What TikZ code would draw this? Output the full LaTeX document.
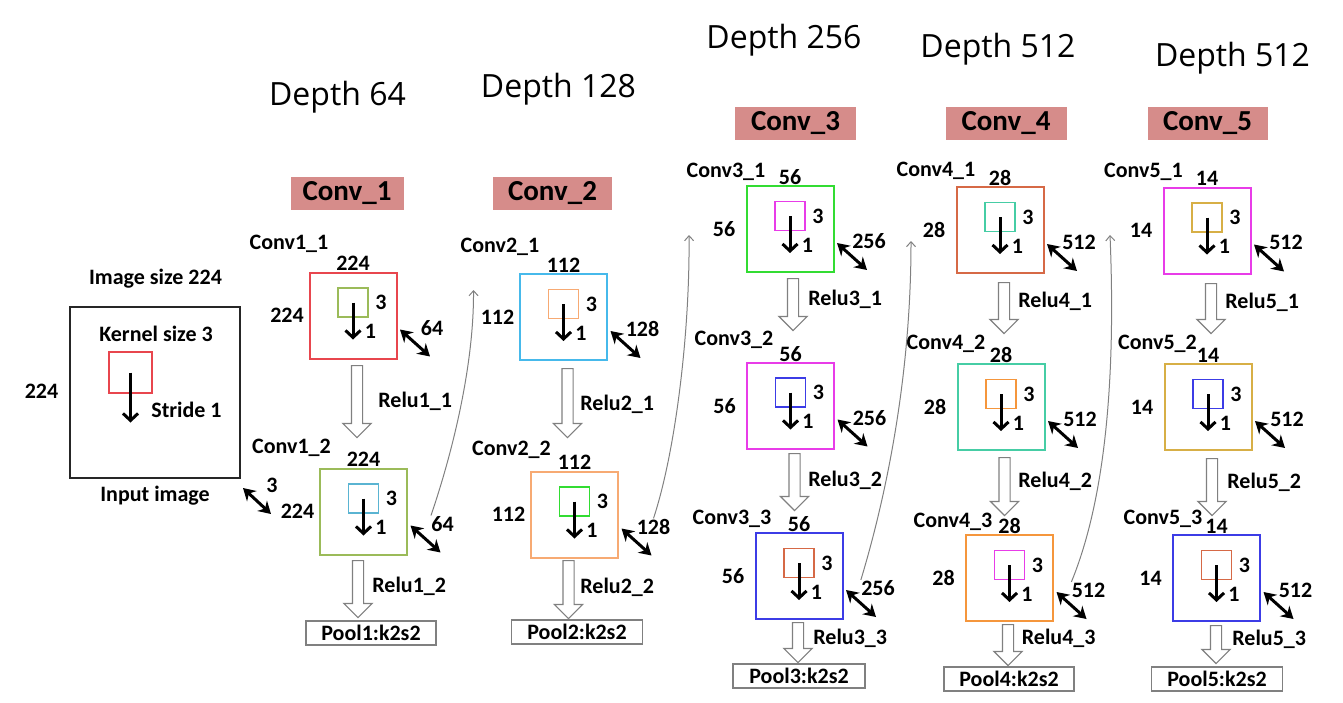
\documentclass[tikz,border=0pt]{standalone}
\usepackage{fontspec}
\setmainfont{Carlito}
\newfontfamily\depthfont{Open Sans}
\usepackage{tikz}
\usetikzlibrary{positioning, arrows.meta, shapes.arrows, calc}

\definecolor{headpink}{RGB}{214,140,138}
\definecolor{fred}{RGB}{232,70,78}
\definecolor{folive}{RGB}{155,187,89}
\definecolor{fsky}{RGB}{70,185,235}
\definecolor{fpeach}{RGB}{247,170,115}
\definecolor{fgreen}{RGB}{50,220,50}
\definecolor{fmagenta}{RGB}{232,60,232}
\definecolor{fblue}{RGB}{60,60,230}
\definecolor{frust}{RGB}{214,105,70}
\definecolor{fteal}{RGB}{70,205,165}
\definecolor{forange}{RGB}{245,150,60}
\definecolor{fgold}{RGB}{215,175,70}
\definecolor{fcyan}{RGB}{90,180,210}
\definecolor{linegray}{RGB}{128,128,128}

\begin{document}
\begin{tikzpicture}[x=0.5pt, y=-0.5pt,
  lbl/.style={font=\fontsize{11}{13}\selectfont\bfseries, inner sep=0pt},
  depthlbl/.style={font=\depthfont\fontsize{16}{19}\selectfont, inner sep=0pt},
  header/.style={fill=headpink, font=\fontsize{14.5}{17}\selectfont\bfseries,
                 minimum height=16.5pt, inner sep=0pt},
  fmap/.style={draw, line width=1pt, minimum width=43.5pt, minimum height=43pt, inner sep=0pt},
  kernel/.style={draw, line width=0.85pt, minimum width=15pt, minimum height=14.5pt, inner sep=0pt},
  stride/.style={line width=1.5pt, -{Straight Barb[length=3.5pt, width=7.5pt]}},
  chan/.style={line width=1.5pt, {Stealth[length=6pt, width=7pt]}-{Stealth[length=6pt, width=7pt]}},
  relu/.style={single arrow, draw=linegray, fill=white, line width=0.6pt,
               shape border rotate=270, inner sep=2.5pt,
               single arrow head extend=4.25pt},
  pool/.style={draw=linegray, line width=0.6pt, minimum height=12pt, inner sep=0pt,
               font=\fontsize{11}{13}\selectfont\bfseries},
  skip/.style={linegray, line width=0.5pt, -{Straight Barb[length=2.5pt, width=4.5pt]}},
]
  \useasboundingbox (0,0) rectangle (1343,702);

  % Depth titles and block headers
  \node[depthlbl] (dep1) at (337.5,97) {Depth 64};
  \node[depthlbl] (dep2) at (558.5,89) {Depth 128};
  \node[depthlbl] (dep3) at (784,40) {Depth 256};
  \node[depthlbl] (dep4) at (998,49) {Depth 512};
  \node[depthlbl] (dep5) at (1232.5,58) {Depth 512};

  \node[header, minimum width=56.5pt] (conv1) at (347,193) {Conv\_1};
  \node[header, minimum width=59.5pt] (conv2) at (552.5,193) {Conv\_2};
  \node[header, minimum width=60.5pt] (conv3) at (795.5,123.5) {Conv\_3};
  \node[header, minimum width=60.5pt] (conv4) at (1006,123.5) {Conv\_4};
  \node[header, minimum width=60pt] (conv5) at (1207.5,123.5) {Conv\_5};

  % Input image
  \node[draw=black!85, line width=1pt, minimum width=85pt, minimum height=85.5pt,
        inner sep=0pt] (img) at (155,392.5) {};
  \node[lbl] (imgsize) at (155.5,279) {Image size 224};
  \node[lbl] (ksize) at (156,334) {Kernel size 3};
  \node[kernel, draw=fred, minimum width=21.5pt, minimum height=20.5pt] (k0) at (130.5,372.5) {};
  \draw[stride] (k0.center) -- ++(0,50);
  \node[lbl] (stride) at (186.5,410) {Stride 1};
  \node[lbl] (imgh) at (41.5,391) {224};
  \node[lbl] (imgname) at (155,496) {Input image};
  \draw[chan] ($(img.south east)+(2,9)$) -- ++(28,26);
  \node[lbl] (imgd) at (272,485) {3};

  % Feature maps: column/row/x/y/frame/kernel/size/depth/label position
  \foreach \col/\row/\px/\py/\fc/\kc/\sz/\dp/\lx/\ly in {
    1/1/353/315.5/fred/folive/224/64/289/242,
    1/2/363.5/511.5/folive/fcyan/224/64/291.5/446,
    2/1/563.5/317/fsky/fpeach/112/128/500/245,
    2/2/574.5/514.5/fpeach/fgreen/112/128/511.5/448,
    3/1/790/229/fgreen/fmagenta/56/256/726/170,
    3/2/790.5/405.5/fmagenta/fblue/56/256/734/338,
    3/3/799/576/fblue/frust/56/256/732/517,
    4/1/1000/230/frust/fteal/28/512/936/169,
    4/2/1001/407/fteal/forange/28/512/946/342,
    4/3/1009.5/578/forange/fmagenta/28/512/953/520,
    5/1/1207/230.5/fmagenta/fgold/14/512/1143.5/170,
    5/2/1208/407/fgold/fblue/14/512/1157.5/342,
    5/3/1216.5/578/fblue/frust/14/512/1163/517}
  {
    \node[fmap, draw=\fc] (c\col\row) at (\px,\py) {};
    \node[kernel, draw=\kc] (k\col\row) at (\px,\py-13) {};
    \draw[stride] (k\col\row.center) -- ++(0,37);
    \node[lbl] (h\col\row) at (\px,\py-52) {\sz};
    \node[lbl] (w\col\row) at (\px-66,\py) {\sz};
    \node[lbl] at (\px+28,\py-13) {3};
    \node[lbl] at (\px+17.5,\py+16) {1};
    \draw[chan] ($(c\col\row.east)+(2.5,14)$) -- ++(30,27);
    \node[lbl] (d\col\row) at (\px+79,\py+12) {\dp};
    \node[lbl] (n\col\row) at (\lx,\ly) {Conv\col\_\row};
  }

  % ReLU block arrows: column/row/x/top/tip/label position
  \foreach \col/\row/\px/\ta/\tb/\lx/\ly in {
    1/1/357/365/437/378/401, 1/2/358/560/617/372/586,
    2/1/567.5/368/437/580/404, 2/2/568.5/560/618/580/587,
    3/1/793/278/330/808/299, 3/2/794.5/453/510/808/480, 3/3/798/622/662/813/638,
    4/1/1004/282/333/1018/301, 4/2/1004.5/457/515/1018/481, 4/3/1008/624/665/1021.5/638,
    5/1/1211/283/333/1225/302, 5/2/1212/458/515/1227/482, 5/3/1216/625/663/1232/639}
  {
    \node[relu, anchor=tail, minimum height={(\tb-\ta)*0.5pt}] (r\col\row) at (\px,\ta) {};
    \node[lbl, anchor=west] at (\lx,\ly) {Relu\col\_\row};
  }

  % Pooling
  \node[pool, minimum width=65pt] (p1) at (371,633) {Pool1:k2s2};
  \node[pool, minimum width=65.5pt] (p2) at (577,632) {Pool2:k2s2};
  \node[pool, minimum width=66pt] (p3) at (799,676) {Pool3:k2s2};
  \node[pool, minimum width=65pt] (p4) at (1009,679) {Pool4:k2s2};
  \node[pool, minimum width=65.5pt] (p5) at (1217,679) {Pool5:k2s2};

  % Links to the next block
  \coordinate (in2) at (473.5,290);
  \coordinate (in3) at (689,235);
  \coordinate (in4) at (911,241);
  \coordinate (in5) at (1110,235);
  \draw[skip] (d12.north west) .. controls (450,460) and (474,370) .. (in2);
  \draw[skip] (d22.north) .. controls (676,450) and (690,330) .. (in3);
  \draw[skip] (d33.north west) .. controls (885,500) and (911,380) .. (in4);
  \draw[skip] (d43.north west) .. controls (1105,500) and (1116,380) .. (in5);
\end{tikzpicture}
\end{document}
